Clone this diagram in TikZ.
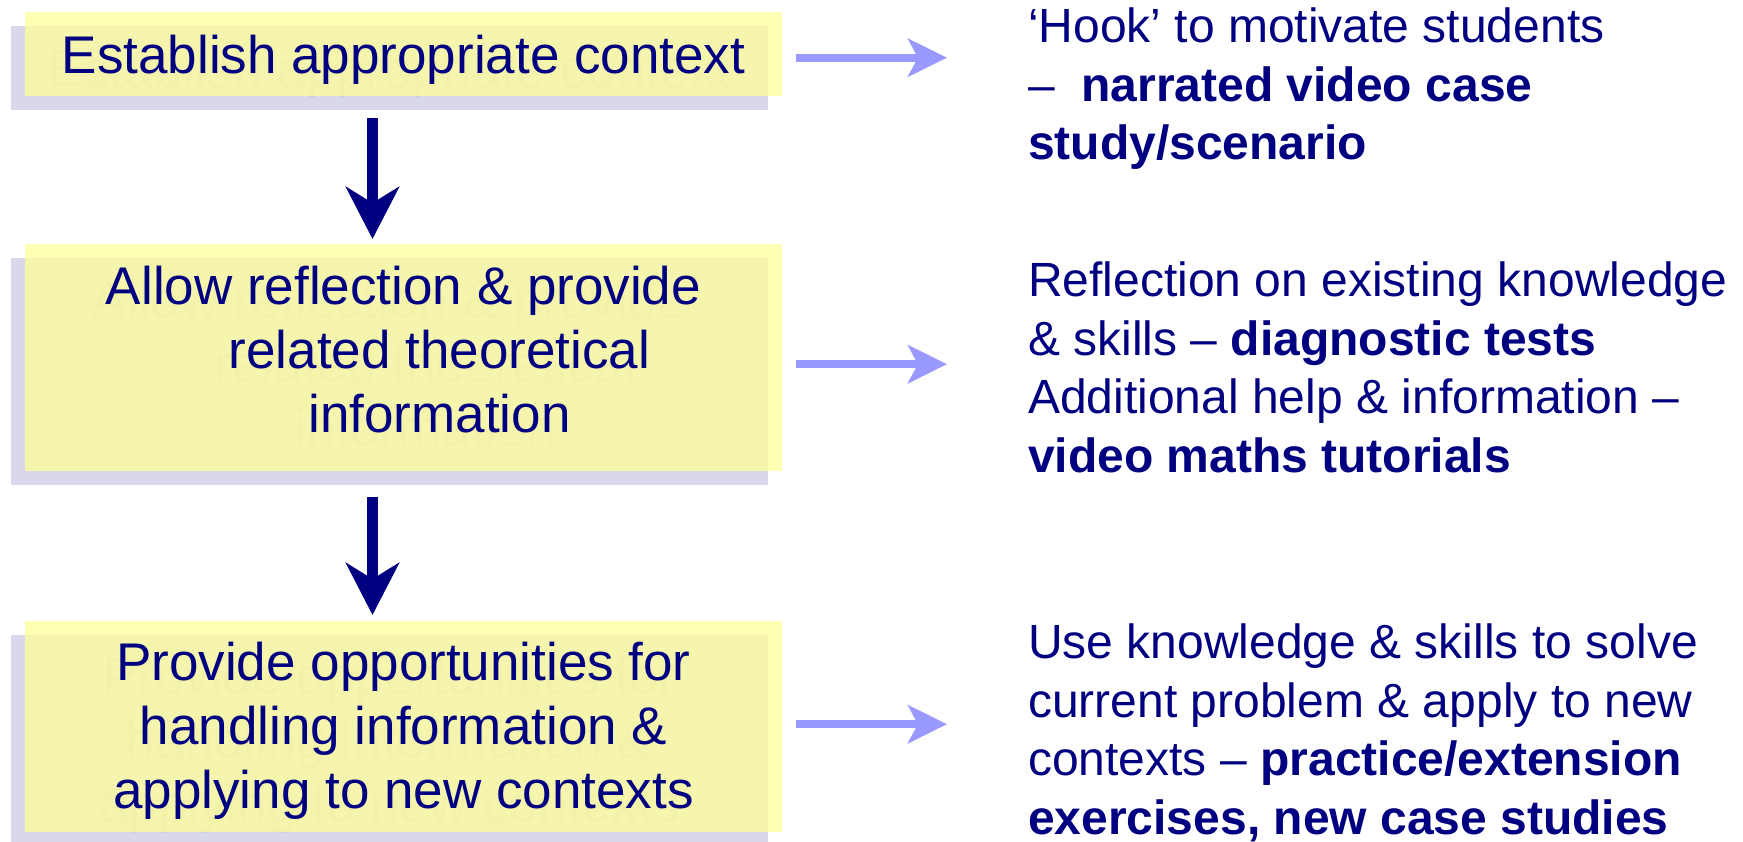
\documentclass[tikz,border=0pt]{standalone}
\usepackage{fontspec}
\setmainfont{Liberation Sans}
\usetikzlibrary{arrows.meta}
\definecolor{navy}{HTML}{000080}
\definecolor{lilac}{HTML}{D8D8EA}
\definecolor{ghost}{HTML}{CCCCE3}
\definecolor{lemon}{HTML}{FFFF99}
\definecolor{sky}{HTML}{9999FF}
\tikzset{
    stagebox/.style={fill=lemon, fill opacity=0.75, draw=none, minimum width=757,
        inner sep=0, anchor=north},
    stageshadow/.style={fill=lilac, draw=none, minimum width=757, inner sep=0,
        anchor=north},
    stagetext/.style={text=navy, align=center, inner sep=0, anchor=north,
        font={\fontsize{53}{64}\selectfont}},
    notetext/.style={text=navy, align=left, inner sep=0, anchor=north west,
        font={\fontsize{48}{58.5}\selectfont}},
    downarrow/.style={navy, line width=11pt,
        -{Stealth[length=52pt, width=53pt, inset=16pt]}},
    sidearrow/.style={sky, line width=8pt,
        -{Stealth[length=39pt, width=38pt, inset=10pt]}},
}
% #1 name, #2 top of box, #3 box height, #4 top of text, #5 text
\newcommand{\flowstage}[5]{
    \node[stageshadow, minimum height=#3] (#1s) at (389.5, #2+14) {};
    \node[stagetext, text=ghost] at (389.5, #4+14) {#5};
    \node[stagebox, minimum height=#3] (#1) at (403.5, #2) {};
    \node[stagetext] (#1t) at (403.5, #4) {#5};
}

\begin{document}
\begin{tikzpicture}[x=1pt, y=-1pt]
    \useasboundingbox (0, 0) rectangle (1743, 842);

    \flowstage{b1}{12}{84}{35}{Establish appropriate context}
    \flowstage{b2}{244}{227}{266}{Allow reflection \& provide\\
        \hspace*{72pt}related theoretical\\\hspace*{72pt}information}
    \flowstage{b3}{621}{211}{642}{Provide opportunities for\\
        handling information \&\\applying to new contexts}

    \node[notetext] (n1) at (1028, 8) {‘Hook’ to motivate students\\
        –\ \ \textbf{narrated video case}\\\textbf{study/scenario}};
    \node[notetext] (n2) at (1028, 262) {Reflection on existing knowledge\\
        \& skills – \textbf{diagnostic tests}\\Additional help \& information –\\
        \textbf{video maths tutorials}};
    \node[notetext] (n3) at (1028, 624) {Use knowledge \& skills to solve\\
        current problem \& apply to new\\contexts – \textbf{practice/extension}\\
        \textbf{exercises, new case studies}};

    \draw[downarrow, shorten <=22pt, shorten >=5pt] ([xshift=-31pt]b1.south)
        -- ([xshift=-31pt]b2.north);
    \draw[downarrow, shorten <=26pt, shorten >=6pt] ([xshift=-31pt]b2.south)
        -- ([xshift=-31pt]b3.north);

    \draw[sidearrow, shorten <=14pt, shorten >=81pt] ([yshift=-3.5pt]b1.east)
        -- ([yshift=-3.5pt]b1.east -| n1.west);
    \draw[sidearrow, shorten <=14pt, shorten >=81pt] ([yshift=-6.5pt]b2.east)
        -- ([yshift=-6.5pt]b2.east -| n2.west);
    \draw[sidearrow, shorten <=14pt, shorten >=81pt] ([yshift=2.5pt]b3.east)
        -- ([yshift=2.5pt]b3.east -| n3.west);
\end{tikzpicture}
\end{document}
